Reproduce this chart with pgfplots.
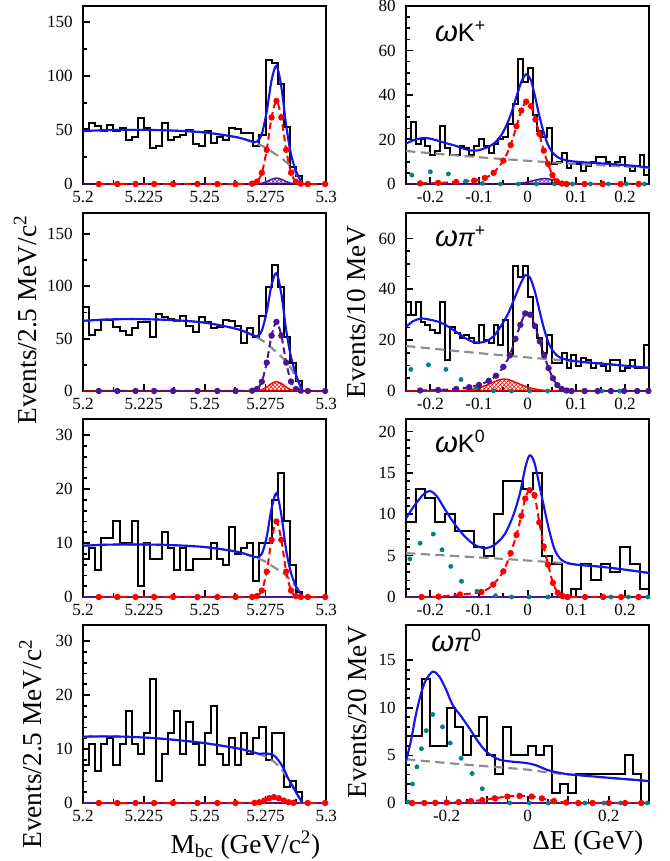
\documentclass[border=0pt]{standalone}
\usepackage{fontspec}
\setmainfont{Liberation Serif}
\newfontfamily\titlefont{Liberation Sans}
\usepackage{pgfplots}
\usepackage{pgfplotstable}
\pgfplotsset{compat=1.18}
\usetikzlibrary{patterns}

\definecolor{fitblue}{RGB}{20,20,235}
\definecolor{bkggray}{RGB}{140,140,140}
\definecolor{sigred}{RGB}{255,0,0}
\definecolor{pur}{RGB}{75,20,145}
\definecolor{tealdot}{RGB}{0,130,130}

\newcommand{\labfont}{\fontsize{20.5bp}{22bp}\selectfont}
\newcommand{\titfont}{\titlefont\fontsize{19bp}{20bp}\selectfont}
\newcommand{\om}{{\fontsize{22bp}{22bp}\selectfont\itshape ω}}

\pgfplotsset{
  panel/.style={
    scale only axis, width=182.5bp, height=133.5bp, anchor=south west,
    axis line style={line width=1.5bp},
    tick align=inside, xtick pos=bottom, ytick pos=left,
    major tick length=5bp, minor tick length=2.8bp,
    every tick/.style={black, line width=1.3bp},
    tick label style={font=\fontsize{12.8bp}{14bp}\selectfont, inner sep=0.5bp},
    yticklabel style={xshift=-7bp},
    xticklabel style={yshift=-5bp},
    ymin=0, clip=false,
  },
  mbc/.style={xmin=5.2, xmax=5.3, xtick={5.2,5.225,5.25,5.275,5.3},
    xticklabels={5.2,5.225,5.25,5.275,5.3}, minor x tick num=1},
  de/.style={xmin=-0.25, xmax=0.25, xtick={-0.2,-0.1,0,0.1,0.2},
    xticklabels={-0.2,-0.1,0,0.1,0.2}, minor x tick num=1},
  hist/.style={const plot, black, line width=1.5bp, mark=none},
  tot/.style={fitblue, line width=1.6bp, smooth, tension=0.5, mark=none},
  bkg/.style={bkggray, line width=1.6bp, dash pattern=on 7bp off 4bp, smooth, mark=none},
  sig/.style={#1, line width=1.5bp, dash pattern=on 5bp off 3bp, smooth, tension=0.5,
    mark=*, mark size=1.6bp, mark options={solid, fill=#1, draw=#1}},
  hatch/.style={#1, line width=1.1bp, smooth, tension=0.4, mark=none,
    pattern=crosshatch, pattern color=#1},
  rare/.style={only marks, mark=*, mark size=1.6bp, tealdot,
    mark options={fill=tealdot, draw=tealdot}},
  zero/.style={pur, line width=1.3bp, mark=none},
}

% Mbc histograms, 2.5 MeV bins: omega K+, omega pi+, omega K0, omega pi0
\pgfplotstableread{
x kp pp kz pz
5.2000 51 80 7 7
5.2025 57 53 9 11
5.2050 54 58 5 6
5.2075 49 68 11 11
5.2100 55 68 11 12
5.2125 49 61 14 7
5.2150 52 57 10 11
5.2175 41 53 10 17
5.2200 44 60 14 11
5.2225 61 66 2 9
5.2250 52 66 10 13
5.2275 33 52 7 23
5.2300 35 74 7 4
5.2325 57 71 12 9
5.2350 41 69 9 13
5.2375 44 67 5 17
5.2400 45 72 9 9
5.2425 50 62 5 15
5.2450 37 56 7 11
5.2475 35 71 7 7
5.2500 49 66 7 13
5.2525 38 60 10 18
5.2550 44 61 7 9
5.2575 41 68 6 7
5.2600 52 67 13 12
5.2625 51 62 8 7
5.2650 47 46 9 13
5.2675 47 60 10 9
5.2700 35 52 3 12
5.2725 45 72 10 14
5.2750 115 99 10 8
5.2775 112 120 18 13
5.2800 93 99 23 13
5.2825 53 52 14 3
5.2850 16 27 6 4
5.2875 7 10 1 2
5.2900 0 0 0 0
5.2925 0 0 0 0
5.2950 0 0 0 0
5.2975 0 0 0 0
5.3000 0 0 0 0
}\mbcdata

% Delta E, 10 MeV bins: omega K+, omega pi+
\pgfplotstableread{
x kp pp
-0.25 20 35
-0.24 28 30
-0.23 18 35
-0.22 20 27
-0.21 17 26
-0.20 13 24
-0.19 15 23
-0.18 26 35
-0.17 16 12
-0.16 13 25
-0.15 13 23
-0.14 17 21
-0.13 16 22
-0.12 13 21
-0.11 17 19
-0.10 20 26
-0.09 17 20
-0.08 14 19
-0.07 18 26
-0.06 20 18
-0.05 21 28
-0.04 27 14
-0.03 36 49
-0.02 56 45
-0.01 46 49
0.00 52 37
0.01 31 26
0.02 24 21
0.03 21 15
0.04 25 22
0.05 9 11
0.06 10 11
0.07 14 15
0.08 7 9
0.09 9 14
0.10 9 10
0.11 6 13
0.12 8 12
0.13 10 9
0.14 12 11
0.15 12 10
0.16 10 8
0.17 8 12
0.18 10 12
0.19 12 8
0.20 8 9
0.21 6 12
0.22 8 9
0.23 13 9
0.24 4 18
0.25 4 18
}\dedata

% Delta E, omega K0 (20 MeV bins)
\pgfplotstableread{
x n
-0.25 9
-0.23 13
-0.21 12
-0.19 9
-0.17 10
-0.15 8
-0.13 8
-0.11 6
-0.09 5
-0.07 10
-0.05 14
-0.03 14
-0.01 13
0.01 15
0.03 5
0.05 4
0.07 0
0.09 1
0.11 4
0.13 2
0.15 4
0.17 3
0.19 6
0.21 4
0.23 1
0.25 1
}\dekz

% Delta E, omega pi0 (20 MeV bins)
\pgfplotstableread{
x n
-0.30 7
-0.28 7
-0.26 13
-0.24 6
-0.22 6
-0.20 10
-0.18 8
-0.16 5
-0.14 7
-0.12 9
-0.10 5
-0.08 3
-0.06 8
-0.04 5
-0.02 5
0.00 6
0.02 5
0.04 6
0.06 1
0.08 2
0.10 1
0.12 3
0.14 3
0.16 3
0.18 3
0.20 3
0.22 3
0.24 5
0.26 3
0.28 0
0.30 0
}\depz

\begin{document}
\begin{tikzpicture}
\path[use as bounding box] (0,0) rectangle (502.5bp,645.75bp);

%% row 1 left: omega K+, Mbc
\begin{axis}[panel, mbc, at={(62.25bp,507.75bp)}, ymax=165,
  ytick={0,50,100,150}, yticklabels={0,50,100,150}, minor y tick num=1]
\addplot[hist] table[x=x,y=kp]{\mbcdata};
\addplot[bkg] coordinates {(5.2,49)(5.21,50)(5.22,50.2)(5.23,50)(5.24,49.2)(5.25,47.8)(5.26,44.6)(5.265,42.4)(5.27,38.7)(5.275,33.8)(5.2786,28.4)(5.2815,24)(5.2848,17.6)(5.2875,9.8)(5.2895,2.5)(5.29,0)};
\addplot[hatch=pur] coordinates {(5.2,0)(5.2685,0)(5.2715,0.15)(5.2735,0.74)(5.2755,2.26)(5.2775,4.4)(5.2795,5.5)(5.2815,4.4)(5.2835,2.26)(5.2855,0.74)(5.2875,0.15)(5.2905,0)(5.3,0)} \closedcycle;
\addplot[sig=sigred] coordinates {(5.2065,0)(5.2141,0)(5.2216,0)(5.2292,0)(5.237,0)(5.247,0)(5.2552,0)(5.2627,0)(5.2695,0.3)(5.2715,2.2)(5.2735,10.4)(5.2755,31.6)(5.2775,61.7)(5.2795,77)(5.2815,61.7)(5.2835,31.6)(5.2855,10.4)(5.2875,2.2)(5.2895,0.3)(5.2924,0)(5.2995,0)};
\addplot[tot] coordinates {(5.2,49)(5.21,50)(5.22,50.2)(5.23,50)(5.24,49.2)(5.25,47.8)(5.26,44.6)(5.265,42.4)(5.2695,39.4)(5.2715,39.3)(5.2735,46.4)(5.2755,67.2)(5.2775,96.2)(5.2795,109.6)(5.2815,90.1)(5.2835,54.2)(5.2855,27.3)(5.2875,12.2)(5.2895,2.8)(5.29,0)};
\end{axis}

%% row 1 right: omega K+, Delta E
\begin{axis}[panel, de, at={(304.5bp,507.75bp)}, ymax=80,
  ytick={0,20,40,60,80}, yticklabels={0,20,40,60,80}, minor y tick num=3]
\addplot[hist] table[x=x,y=kp]{\dedata};
\addplot[bkg] coordinates {(-0.25,14.8)(-0.15,12.9)(-0.05,11.2)(0.05,9.7)(0.15,8.4)(0.25,7.3)};
\addplot[rare] coordinates {(-0.238,4)(-0.2,5.5)(-0.163,4.5)(-0.127,1.3)(-0.093,0.3)(-0.056,0)(-0.019,0)(0.018,0)(0.055,0)(0.092,0)(0.129,0)(0.166,0)(0.203,0)(0.24,0)};
\addplot[hatch=pur] coordinates {(-0.25,0)(-0.05,0)(-0.02,0.25)(0,0.9)(0.015,1.7)(0.025,2.2)(0.035,2.5)(0.045,2.2)(0.055,1.7)(0.07,0.9)(0.09,0.25)(0.12,0)(0.25,0)} \closedcycle;
\addplot[sig=sigred] coordinates {(-0.221,0.3)(-0.184,0.5)(-0.147,0.9)(-0.11,1.5)(-0.088,2.7)(-0.07,5)(-0.05,10.5)(-0.035,17.5)(-0.023,26)(-0.013,33)(-0.003,37)(0.007,35)(0.016,29)(0.024,22.5)(0.033,15)(0.042,9)(0.051,4)(0.06,1.2)(0.07,0.2)(0.08,0)(0.117,0)(0.154,0)(0.191,0)(0.228,0)};
\addplot[tot] coordinates {(-0.25,18.2)(-0.23,20)(-0.21,20.7)(-0.19,19.8)(-0.17,18.5)(-0.15,17.3)(-0.13,15.8)(-0.115,15)(-0.1,15.2)(-0.08,16.8)(-0.065,19)(-0.05,23.5)(-0.035,31)(-0.022,40)(-0.012,46.5)(-0.003,49.3)(0.006,47)(0.014,40.5)(0.022,32.5)(0.03,25.5)(0.04,18.5)(0.05,14.5)(0.06,12.3)(0.07,11.2)(0.085,10.4)(0.1,10)(0.125,9.6)(0.15,9.3)(0.175,8.9)(0.2,8.5)(0.225,8)(0.25,7.4)};
\node[anchor=base west, font=\titfont] at (rel axis cs:0.1,0.8) {\om K\textsuperscript{+}};
\end{axis}

%% row 2 left: omega pi+, Mbc
\begin{axis}[panel, mbc, at={(62.25bp,352.5bp)}, ymax=170,
  ytick={0,50,100,150}, yticklabels={0,50,100,150}, minor y tick num=1]
\addplot[hist] table[x=x,y=pp]{\mbcdata};
\addplot[bkg] coordinates {(5.2,67)(5.21,68.3)(5.22,68.7)(5.23,68.3)(5.24,67.3)(5.25,65.3)(5.26,61)(5.265,58)(5.27,52.9)(5.275,46.2)(5.2786,38.9)(5.2815,32.8)(5.2848,24.1)(5.2875,13.4)(5.2895,3.4)(5.29,0)};
\addplot[hatch=sigred] coordinates {(5.2,0)(5.2675,0)(5.2715,0.26)(5.2735,1.2)(5.2755,3.7)(5.2775,7.2)(5.2795,9)(5.2815,7.2)(5.2835,3.7)(5.2855,1.2)(5.2875,0.26)(5.2915,0)(5.3,0)} \closedcycle;
\addplot[sig=pur] coordinates {(5.2065,0)(5.2141,0)(5.2216,0)(5.2292,0)(5.237,0)(5.247,0)(5.2552,0)(5.2627,0)(5.2695,0.26)(5.2715,1.9)(5.2735,8.9)(5.2755,27.1)(5.2775,52.9)(5.2795,66)(5.2815,52.9)(5.2835,27.1)(5.2855,8.9)(5.2875,1.9)(5.2895,0.26)(5.2924,0)(5.2995,0)};
\addplot[tot] coordinates {(5.2,67)(5.21,68.3)(5.22,68.7)(5.23,68.3)(5.24,67.3)(5.25,65.3)(5.26,61)(5.265,58)(5.2695,53.7)(5.2715,52.3)(5.2735,57.7)(5.2755,75.9)(5.2775,101.3)(5.2795,112.5)(5.2815,92.9)(5.2835,58.1)(5.2855,32.3)(5.2875,15.6)(5.2895,3.7)(5.29,0)};
\end{axis}

%% row 2 right: omega pi+, Delta E
\begin{axis}[panel, de, at={(304.5bp,352.5bp)}, ymax=70,
  ytick={0,20,40,60}, yticklabels={0,20,40,60}, minor y tick num=3]
\addplot[hist] table[x=x,y=pp]{\dedata};
\addplot[bkg] coordinates {(-0.25,17.7)(-0.15,15.8)(-0.05,14)(0.05,12.4)(0.15,10.7)(0.25,9.1)};
\addplot[rare] coordinates {(-0.24,8.5)(-0.204,10.3)(-0.168,8.5)(-0.137,4.5)(-0.105,1.3)(-0.07,0.1)(-0.033,0)(0.004,0)(0.041,0)(0.078,0)(0.115,0)(0.152,0)(0.189,0)(0.226,0)};
\addplot[hatch=sigred] coordinates {(-0.25,0)(-0.16,0)(-0.13,0.25)(-0.105,1)(-0.085,2.3)(-0.07,3.5)(-0.058,4.4)(-0.048,4.7)(-0.038,4.4)(-0.026,3.5)(-0.011,2.3)(0.009,1)(0.034,0.25)(0.064,0)(0.25,0)} \closedcycle;
\addplot[sig=pur] coordinates {(-0.221,0.2)(-0.184,0.4)(-0.147,0.8)(-0.12,1.5)(-0.1,2.4)(-0.08,4)(-0.065,6)(-0.05,9.5)(-0.037,14)(-0.025,20.5)(-0.015,26)(-0.005,30.5)(0.005,30)(0.015,25.5)(0.025,19.5)(0.034,14)(0.043,9)(0.052,5)(0.061,2.3)(0.07,0.8)(0.08,0.2)(0.09,0)(0.117,0)(0.144,0)(0.171,0)(0.198,0)(0.225,0)(0.248,0)};
\addplot[tot] coordinates {(-0.25,25.2)(-0.235,27.5)(-0.218,28.5)(-0.2,28)(-0.18,27)(-0.163,25.3)(-0.145,23)(-0.13,21)(-0.115,19.5)(-0.1,19)(-0.085,19.6)(-0.07,21.5)(-0.055,25.5)(-0.04,30.5)(-0.027,36.5)(-0.015,42)(-0.005,45.5)(0.005,44.5)(0.015,39)(0.025,31)(0.035,23.5)(0.045,18)(0.055,15)(0.065,13.3)(0.08,12.3)(0.1,11.7)(0.125,11.2)(0.15,10.8)(0.175,10.4)(0.2,9.95)(0.225,9.5)(0.25,9.1)};
\node[anchor=base west, font=\titfont] at (rel axis cs:0.1,0.81) {\om{\itshape π}\textsuperscript{+}};
\end{axis}

%% row 3 left: omega K0, Mbc
\begin{axis}[panel, mbc, at={(62.25bp,198bp)}, ymax=33,
  ytick={0,10,20,30}, yticklabels={0,10,20,30}, minor y tick num=4]
\addplot[hist] table[x=x,y=kz]{\mbcdata};
\addplot[bkg] coordinates {(5.2,9.5)(5.21,9.7)(5.22,9.74)(5.23,9.7)(5.24,9.55)(5.25,9.26)(5.26,8.65)(5.265,8.2)(5.27,7.5)(5.275,6.55)(5.2786,5.5)(5.2815,4.65)(5.2848,3.4)(5.2875,1.9)(5.2895,0.47)(5.29,0)};
\addplot[zero] coordinates {(5.2,0)(5.3,0)};
\addplot[sig=sigred] coordinates {(5.2065,0)(5.2141,0)(5.2216,0)(5.2292,0)(5.237,0)(5.247,0)(5.2552,0)(5.2627,0)(5.2695,0.01)(5.2715,0.18)(5.2735,1.2)(5.2755,4.7)(5.2775,10.6)(5.2795,14)(5.2815,10.6)(5.2835,4.7)(5.2855,1.2)(5.2875,0.18)(5.2895,0.01)(5.2924,0)(5.2995,0)};
\addplot[tot] coordinates {(5.2,9.5)(5.21,9.7)(5.22,9.74)(5.23,9.7)(5.24,9.55)(5.25,9.26)(5.26,8.65)(5.265,8.2)(5.2695,7.58)(5.2715,7.38)(5.2735,8)(5.2755,11.15)(5.2775,16.45)(5.2795,19.24)(5.2815,15.25)(5.2835,8.65)(5.2855,4.45)(5.2875,2.08)(5.2895,0.48)(5.29,0)};
\end{axis}

%% row 3 right: omega K0, Delta E
\begin{axis}[panel, de, at={(304.5bp,198bp)}, ymax=21.5,
  ytick={0,5,10,15,20}, yticklabels={0,5,10,15,20}, minor y tick num=4]
\addplot[hist] table[x=x,y=n]{\dekz};
\addplot[bkg] coordinates {(-0.25,5.3)(-0.15,4.95)(-0.05,4.6)(0.05,4.2)(0.1,3.95)(0.15,3.65)(0.2,3.3)(0.25,2.9)};
\addplot[rare] coordinates {(-0.242,4.6)(-0.221,6.5)(-0.194,7.6)(-0.176,5.7)(-0.158,3.7)(-0.136,1.9)(-0.104,0.7)(-0.066,0.16)(-0.033,0)(0.003,0)(0.042,0)(0.079,0)(0.118,0)(0.155,0)(0.171,0)(0.207,0)(0.247,0)};
\addplot[zero] coordinates {(-0.25,0)(0.25,0)};
\addplot[sig=sigred] coordinates {(-0.218,0)(-0.183,0.05)(-0.139,0.3)(-0.095,0.6)(-0.071,1.5)(-0.05,3.1)(-0.035,5.3)(-0.023,7.5)(-0.013,9.8)(-0.005,11.9)(0.004,12.9)(0.014,12.3)(0.024,9)(0.033,6.1)(0.042,3.9)(0.052,1.7)(0.062,0.5)(0.072,0.1)(0.082,0)(0.118,0)(0.155,0)(0.192,0)(0.228,0)};
\addplot[tot] coordinates {(-0.25,9.5)(-0.232,11.1)(-0.214,12.4)(-0.201,12.8)(-0.187,12.2)(-0.17,10.6)(-0.15,8.8)(-0.129,7.3)(-0.109,6.3)(-0.088,5.9)(-0.068,6.3)(-0.047,7.6)(-0.03,9.8)(-0.016,12.5)(-0.005,15.6)(0.004,17.1)(0.014,16.2)(0.028,12.4)(0.042,8.6)(0.055,5.8)(0.069,4.5)(0.089,4)(0.12,3.8)(0.151,3.65)(0.2,3.3)(0.25,2.9)};
\node[anchor=base west, font=\titfont] at (rel axis cs:0.1,0.81) {\om K\textsuperscript{0}};
\end{axis}

%% row 4 left: omega pi0, Mbc
\begin{axis}[panel, mbc, at={(62.25bp,43.5bp)}, ymax=33,
  ytick={0,10,20,30}, yticklabels={0,10,20,30}, minor y tick num=4]
\addplot[hist] table[x=x,y=pz]{\mbcdata};
\addplot[bkg] coordinates {(5.2,12.3)(5.21,12.35)(5.22,12.25)(5.23,12)(5.24,11.6)(5.25,11.1)(5.26,10.4)(5.265,10)(5.27,9.4)(5.275,8.6)(5.2786,7.6)(5.2815,6.3)(5.2848,4)(5.2875,2)(5.2895,0.5)(5.29,0)};
\addplot[zero] coordinates {(5.2,0)(5.3,0)};
\addplot[sig=sigred] coordinates {(5.2065,0)(5.2141,0)(5.2216,0)(5.2292,0)(5.237,0)(5.247,0)(5.2552,0)(5.2627,0)(5.2705,0.03)(5.2725,0.15)(5.2745,0.45)(5.2765,0.88)(5.2785,1.1)(5.2805,0.88)(5.2825,0.45)(5.2845,0.15)(5.2865,0.03)(5.2924,0)(5.2995,0)};
\addplot[tot] coordinates {(5.2,12.3)(5.21,12.35)(5.22,12.25)(5.23,12)(5.24,11.6)(5.25,11.1)(5.26,10.4)(5.265,10)(5.2705,9.35)(5.2725,9.1)(5.2745,9.2)(5.2765,9.1)(5.2785,8.8)(5.2805,7.8)(5.2825,6.35)(5.2845,4.4)(5.2865,2.9)(5.2875,2.0)(5.2895,0.5)(5.29,0)};
\end{axis}

%% row 4 right: omega pi0, Delta E
\begin{axis}[panel, at={(304.5bp,43.5bp)}, xmin=-0.3, xmax=0.3,
  xtick={-0.2,-0.1,0,0.1,0.2}, xticklabels={-0.2,{},0,{},0.2}, minor x tick num=1,
  ymax=18.7, ytick={0,5,10,15}, yticklabels={0,5,10,15}, minor y tick num=4]
\addplot[hist] table[x=x,y=n]{\depz};
\addplot[bkg] coordinates {(-0.3,4.6)(-0.2,4.2)(-0.1,3.85)(0,3.5)(0.05,3.2)(0.1,3.0)(0.2,2.65)(0.3,2.3)};
\addplot[rare] coordinates {(-0.295,0.1)(-0.284,2)(-0.273,3.8)(-0.262,5.7)(-0.25,7.6)(-0.234,9.3)(-0.21,8)(-0.191,6.3)(-0.164,4.7)(-0.137,3.1)(-0.112,1.5)(-0.079,0.4)(-0.044,0)(0.004,0)(0.051,0)(0.097,0)(0.141,0)(0.188,0)(0.229,0)(0.295,0)};
\addplot[zero] coordinates {(-0.3,0)(0.3,0)};
\addplot[sig=sigred] coordinates {(-0.285,0)(-0.255,0)(-0.228,0.02)(-0.2,0.05)(-0.17,0.1)(-0.14,0.2)(-0.112,0.3)(-0.081,0.5)(-0.05,0.68)(-0.02,0.75)(0.01,0.68)(0.035,0.48)(0.065,0.2)(0.095,0.05)(0.125,0)(0.16,0)(0.2,0)(0.24,0)(0.28,0)};
\addplot[tot] coordinates {(-0.3,4.4)(-0.288,6.5)(-0.276,9.2)(-0.263,11.5)(-0.251,12.9)(-0.234,13.8)(-0.218,13.3)(-0.201,11.9)(-0.185,10.3)(-0.164,9.1)(-0.143,7.8)(-0.123,6.5)(-0.102,5.4)(-0.073,4.6)(-0.04,4.35)(-0.007,4.22)(0.018,4.0)(0.05,3.45)(0.08,3.16)(0.1,3.02)(0.15,2.83)(0.2,2.65)(0.25,2.48)(0.3,2.3)};
\node[anchor=base west, font=\titfont] at (rel axis cs:0.085,0.85) {\om{\itshape π}\textsuperscript{0}};
\end{axis}

% axis titles
\node[rotate=90, font=\labfont] at (19bp,405.75bp) {Events/2.5 MeV/c\textsuperscript{2}};
\node[rotate=90, font=\labfont] at (23bp,87.75bp) {Events/2.5 MeV/c\textsuperscript{2}};
\node[rotate=90, font=\labfont] at (267.75bp,411.75bp) {Events/10 MeV};
\node[rotate=90, font=\labfont] at (268bp,111.75bp) {Events/20 MeV};
\node[anchor=base east, font=\labfont] at (243.75bp,6bp) {M\textsubscript{bc} (GeV/c\textsuperscript{2})};
\node[anchor=base east, font=\labfont] at (486bp,8.7bp) {ΔE (GeV)};
\end{tikzpicture}
\end{document}
